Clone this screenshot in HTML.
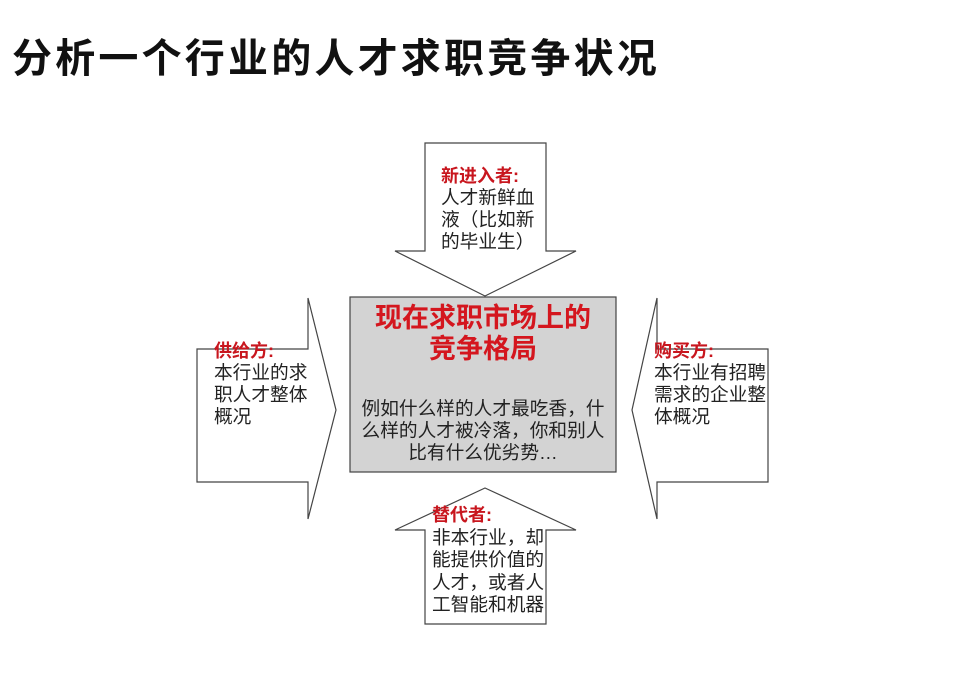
<!DOCTYPE html>
<html><head><meta charset="utf-8"><style>
body{margin:0;width:960px;height:694px;background:#fff;overflow:hidden;font-family:"Liberation Sans","Noto Sans CJK SC",sans-serif;}
svg{position:absolute;left:0;top:0}
.t{position:absolute;font-size:18.7px;line-height:22px;color:#222;white-space:nowrap}
.r{color:#c8161e;font-weight:bold;font-size:18px}
</style></head><body>
<div style="position:absolute;left:12px;top:26px;font-size:40px;font-weight:bold;letter-spacing:3.2px;color:#111;white-space:nowrap;">分析一个行业的人才求职竞争状况</div>
<svg width="960" height="694">
<g fill="#fff" stroke="#444" stroke-width="1.2">
<polygon points="425,143 546,143 546,251 576,251 485,296 395,251 425,251"/>
<polygon points="197,349 308,349 308,298 336,410 308,519 308,482 197,482"/>
<polygon points="768,349 657,349 657,298 632,410 657,519 657,482 768,482"/>
<polygon points="485,488 576,530 546,530 546,624 425,624 425,530 395,530"/>
</g>
<rect x="350" y="297" width="266" height="175" fill="#d3d3d3" stroke="#444" stroke-width="1.2"/>
</svg>
<div class="t" style="left:441px;top:165px"><span class="r">新进入者:</span><br>人才新鲜血<br>液（比如新<br>的毕业生）</div>
<div class="t" style="left:214px;top:340px"><span class="r">供给方:</span><br>本行业的求<br>职人才整体<br>概况</div>
<div class="t" style="left:654px;top:340px"><span class="r">购买方:</span><br>本行业有招聘<br>需求的企业整<br>体概况</div>
<div class="t" style="left:432px;top:504px;line-height:22.5px"><span class="r">替代者:</span><br>非本行业，却<br>能提供价值的<br>人才，或者人<br>工智能和机器</div>
<div style="position:absolute;left:350px;width:266px;top:303px;text-align:center;font-size:27px;line-height:31px;font-weight:bold;color:#d4161e;">现在求职市场上的<br>竞争格局</div>
<div class="t" style="left:350px;width:266px;top:398px;text-align:center;line-height:22px">例如什么样的人才最吃香，什<br>么样的人才被冷落，你和别人<br>比有什么优劣势…</div>
</body></html>
